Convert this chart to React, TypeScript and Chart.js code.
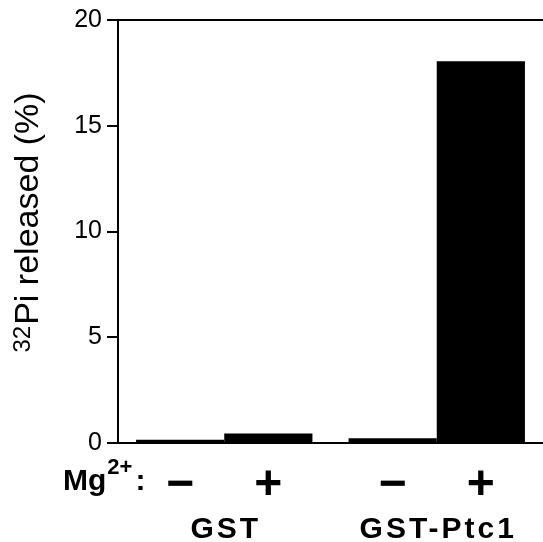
import React, { useEffect, useRef } from 'react';
import { Chart, registerables } from 'chart.js';

Chart.register(...registerables);

const categories = ['GST', 'GST-Ptc1'];
const seriesLabels = ['−', '+'];
const minusValues = [0.15, 0.22];
const plusValues = [0.45, 18.05];
const yTicks = [0, 5, 10, 15, 20];
const yTitleSup = '32';
const yTitleMain = 'Pi released (%)';
const rowLabel = 'Mg';
const rowSup = '2+';
const rowColon = ':';

const FONT = '"Liberation Sans", Arial, Helvetica, sans-serif';

const labelsPlugin = {
  id: 'customLabels',
  afterDraw(chart: any) {
    const ctx: CanvasRenderingContext2D = chart.ctx;
    const { left, top, bottom } = chart.chartArea;
    ctx.save();
    ctx.fillStyle = '#000';
    ctx.textAlign = 'left';
    ctx.textBaseline = 'alphabetic';

    // Y axis title (rotated), with superscript
    ctx.save();
    ctx.translate(left - 80, (top + bottom) / 2 + 121);
    ctx.rotate(-Math.PI / 2);
    ctx.font = `24px ${FONT}`;
    ctx.fillText(yTitleSup, 0, -8);
    const supW = ctx.measureText(yTitleSup).width;
    ctx.font = `34px ${FONT}`;
    ctx.fillText(yTitleMain, supW + 1, 0);
    ctx.restore();

    // Mg2+: row label
    let x = left - 55;
    const rowBase = bottom + 47;
    ctx.font = `bold 30px ${FONT}`;
    ctx.fillText(rowLabel, x, rowBase);
    x += ctx.measureText(rowLabel).width + 1;
    ctx.font = `bold 22px ${FONT}`;
    ctx.fillText(rowSup, x, rowBase - 16);
    x += ctx.measureText(rowSup).width + 3;
    ctx.font = `bold 30px ${FONT}`;
    ctx.fillText(rowColon, x, rowBase);

    // − / + under each bar
    ctx.textAlign = 'center';
    ctx.font = `bold 48px ${FONT}`;
    chart.data.datasets.forEach((ds: any, i: number) => {
      const meta = chart.getDatasetMeta(i);
      meta.data.forEach((bar: any) => {
        ctx.fillText(ds.label, bar.x, bottom + 56);
      });
    });

    // Group labels
    const xScale = chart.scales.x;
    ctx.font = `bold 30px ${FONT}`;
    (ctx as any).letterSpacing = '3px';
    categories.forEach((c, i) => {
      const cx = xScale.getPixelForValue(i);
      ctx.fillText(c, cx + 1.5, bottom + 95);
    });
    ctx.restore();
  },
};

export default function App() {
  const canvasRef = useRef<HTMLCanvasElement | null>(null);

  useEffect(() => {
    if (!canvasRef.current) return;
    Chart.defaults.font.family = FONT;
    const chart = new Chart(canvasRef.current, {
      type: 'bar',
      data: {
        labels: categories,
        datasets: [
          {
            label: seriesLabels[0],
            data: minusValues,
            backgroundColor: '#000',
            borderWidth: 0,
            barPercentage: 1,
            categoryPercentage: 0.83,
          },
          {
            label: seriesLabels[1],
            data: plusValues,
            backgroundColor: '#000',
            borderWidth: 0,
            barPercentage: 1,
            categoryPercentage: 0.83,
          },
        ],
      },
      options: {
        animation: false,
        responsive: true,
        maintainAspectRatio: false,
        layout: { padding: { top: 15, left: 0, right: 0, bottom: 0 } },
        plugins: {
          legend: { display: false },
          tooltip: { enabled: false },
          title: { display: false },
        },
        scales: {
          x: {
            type: 'category',
            grid: { display: false },
            border: { display: true, color: '#000', width: 2 },
            ticks: { display: false },
            afterFit: (s: any) => {
              s.height = 99;
            },
          },
          y: {
            type: 'linear',
            min: 0,
            max: 20,
            afterBuildTicks: (s: any) => {
              s.ticks = yTicks.map((v) => ({ value: v }));
            },
            ticks: {
              color: '#000',
              font: { size: 25, family: FONT },
              padding: 5,
            },
            grid: {
              drawOnChartArea: true,
              color: (c: any) => (c.tick && c.tick.value === 20 ? '#000' : 'rgba(0,0,0,0)'),
              tickColor: '#000',
              tickLength: 11,
              lineWidth: 2,
            },
            border: { display: true, color: '#000', width: 2 },
            afterFit: (s: any) => {
              s.width = 118;
            },
          },
        },
      },
      plugins: [labelsPlugin],
    });
    return () => chart.destroy();
  }, []);

  return (
    <div style={{ position: 'fixed', left: 0, top: 0, width: 543, height: 542, background: '#fff' }}>
      <canvas ref={canvasRef} />
    </div>
  );
}
